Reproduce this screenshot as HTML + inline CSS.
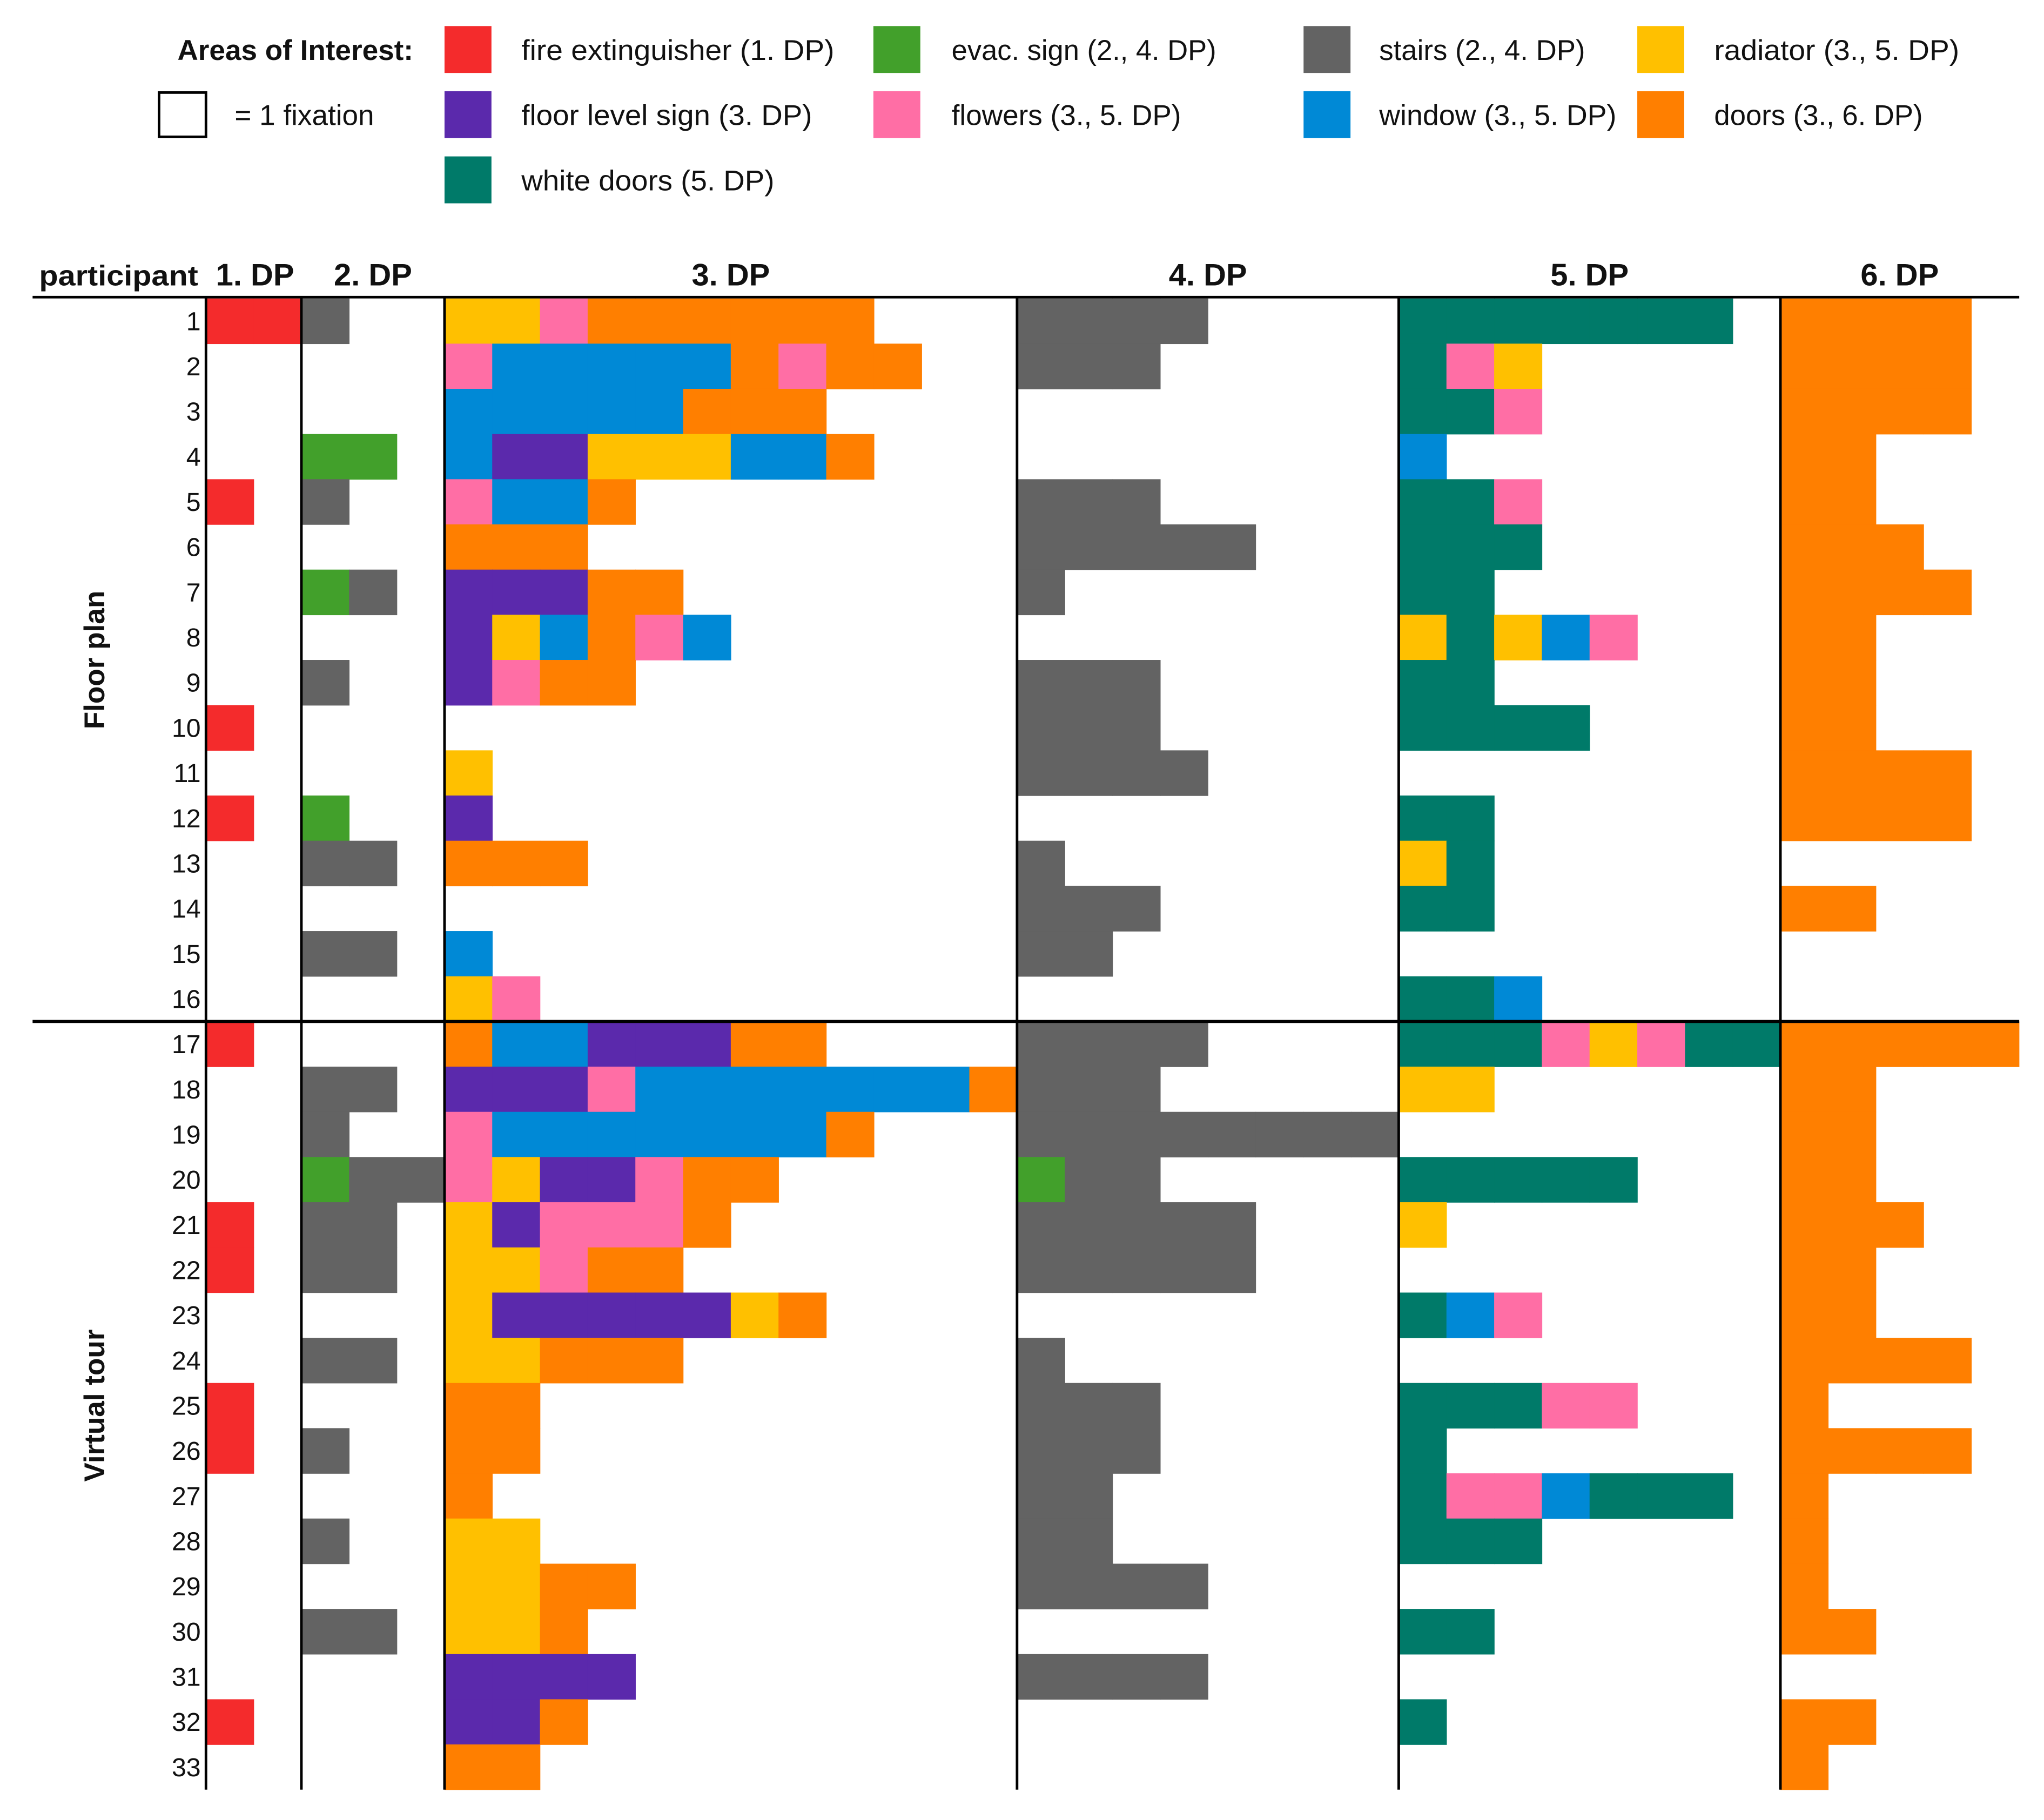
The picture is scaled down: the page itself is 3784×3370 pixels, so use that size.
<!DOCTYPE html>
<html><head><meta charset="utf-8">
<style>
html,body{margin:0;padding:0;background:#fff;}
svg{display:block;}
text{font-family:"Liberation Sans",sans-serif;fill:#111;}
</style></head>
<body>
<svg id="chart" width="3784" height="3370" viewBox="0 0 1568 1396.4" preserveAspectRatio="none" xmlns="http://www.w3.org/2000/svg">
<g id="legend"></g>
<g id="cells"></g>
<g id="axes"></g>
</svg>
<script>
// AOI codes per participant (rows 1..33), one letter per fixation
const dp1 = ["RR","","","","R","","","","","R","","R","","","","","R","","","","R","R","","","R","R","","","","","","R",""];
const dp2 = ["S","","","GG","S","","GS","","S","","","G","SS","","SS","","","SS","S","GSS","SS","SS","","SS","","S","","S","","SS","","",""];
const dp3 = ["YYKOOOOOO","KBBBBBOKOO","BBBBBOOO","BPPYYYBBO","KBBO","OOO","PPPOO","PYBOKB","PKOO","","Y","P","OOO","","B","YK",
             "OBBPPPOO","PPPKBBBBBBBO","KBBBBBBBO","KYPPKOO","YPKKKO","YYKOO","YPPPPPYO","YYOOO","OO","OO","O","YY","YYOO","YYO","PPPP","PPO","OO"];
const dp4 = ["SSSS","SSS","","","SSS","SSSSS","S","","SSS","SSS","SSSS","","S","SSS","SS","",
             "SSSS","SSS","SSSSSSSS","GSS","SSSSS","SSSSS","","S","SSS","SSS","SS","SS","SSSS","","SSSS","",""];
const dp5 = ["TTTTTTT","TKY","TTK","B","TTK","TTT","TT","YTYBK","TT","TTTT","","TT","YT","TT","","TTB",
             "TTTKYKTT","YY","","TTTTT","Y","","TBK","","TTTKK","T","TKKBTTT","TTT","","TT","","T",""];
const dp6 = ["OOOO","OOOO","OOOO","OO","OO","OOO","OOOO","OO","OO","OO","OOOO","OOOO","","OO","","",
             "OOOOO","OO","OO","OO","OOO","OO","OO","OOOO","O","OOOO","O","O","O","OO","","OO","O"];
const dpLabels = ["1. DP","2. DP","3. DP","4. DP","5. DP","6. DP"];
const dpWidths = [2,3,12,8,8,5];
const aoiCodes = ["R","P","T","G","K","S","B","Y","O"];
const aoiNames = ["fire extinguisher (1. DP)","floor level sign (3. DP)","white doors (5. DP)","evac. sign (2., 4. DP)","flowers (3., 5. DP)","stairs (2., 4. DP)","window (3., 5. DP)","radiator (3., 5. DP)","doors (3., 6. DP)"];
const COLORS = {R:"#f42b2c",G:"#42a02b",S:"#636363",Y:"#ffc000",P:"#5b29ac",K:"#ff6ea5",B:"#0089d6",O:"#ff7f00",T:"#007a69"};

const NS="http://www.w3.org/2000/svg";
function mk(tag,attrs,parent){const e=document.createElementNS(NS,tag);for(const k in attrs)e.setAttribute(k,attrs[k]);parent.appendChild(e);return e;}
const x0=158, cw=36.6, y0=229, rh=34.67, nRows=33;
const dpStart=[];let acc=x0;for(const w of dpWidths){dpStart.push(acc);acc+=w*cw;}
const xRight=1549;
const rowY=i=>y0+i*rh;
const cellX=(d,k)=>dpStart[d]+k*cw;

const cells=document.getElementById('cells');
const all=[dp1,dp2,dp3,dp4,dp5,dp6];
all.forEach((arr,d)=>{arr.forEach((s,i)=>{for(let k=0;k<s.length;k++){
  const r=mk('rect',{x:cellX(d,k),y:rowY(i),width:cw+0.3,height:rh+0.3,fill:COLORS[s[k]]},cells);
  
  
}});});

const axes=document.getElementById('axes');
for(let d=0;d<6;d++){
  const l=mk('line',{x1:dpStart[d],x2:dpStart[d],y1:y0-1,y2:rowY(nRows),stroke:'#000','stroke-width':2},axes);
  
  
}
const hl=mk('line',{x1:25,x2:xRight,y1:228,y2:228,stroke:'#000','stroke-width':2},axes);


const sl=mk('line',{x1:25,x2:xRight,y1:rowY(16),y2:rowY(16),stroke:'#000','stroke-width':2.4},axes);


const pt=mk('text',{x:30,y:219,'font-size':22,'font-weight':'bold',textLength:122,lengthAdjust:'spacingAndGlyphs'},axes);
pt.textContent='participant';


dpLabels.forEach((lab,d)=>{
  const cx=dpStart[d]+dpWidths[d]*cw/2 + (d===0?1:0);
  const t=mk('text',{x:cx,y:219,'font-size':24,'font-weight':'bold','text-anchor':'middle'},axes);
  t.textContent=lab;
  
  
});
for(let i=0;i<nRows;i++){
  const t=mk('text',{x:154,y:rowY(i)+rh/2+7,'font-size':20,'text-anchor':'end'},axes);
  t.textContent=String(i+1);
  
  
}
const groups=[["Floor plan",(rowY(0)+rowY(16))/2],["Virtual tour",(rowY(16)+rowY(33))/2]];
groups.forEach(g=>{
  const t=mk('text',{x:0,y:0,'font-size':22,'font-weight':'bold','text-anchor':'middle',transform:`translate(80,${g[1]}) rotate(-90)`},axes);
  t.textContent=g[0];
  
  
});

const lg=document.getElementById('legend');
const lt=mk('text',{x:317,y:46,'font-size':22,'font-weight':'bold','text-anchor':'end'},lg);
lt.textContent='Areas of Interest:';


const box=mk('rect',{x:122,y:71,width:36,height:34,fill:'#fff',stroke:'#000','stroke-width':2},lg);


const bt=mk('text',{x:180,y:96,'font-size':22},lg);
bt.textContent='= 1 fixation';


const colX=[341,670,1000,1256], textX=[400,730,1058,1315], rowYs=[38,88,138];
const order=[["R","G","S","Y"],["P","K","B","O"],["T"]];
const widths={R:240,G:203,S:158,Y:188,P:223,K:176,B:182,O:160,T:194};
order.forEach((row,ri)=>row.forEach((c,ci)=>{
  const idx=aoiCodes.indexOf(c);
  const sw=mk('rect',{x:colX[ci],y:rowYs[ri]-18,width:36,height:36,fill:COLORS[c]},lg);
  
  
  const t=mk('text',{x:textX[ci],y:rowYs[ri]+8,'font-size':22,textLength:widths[c],lengthAdjust:'spacingAndGlyphs'},lg);
  t.textContent=aoiNames[idx];
  
  
}));
</script>
</body></html>
